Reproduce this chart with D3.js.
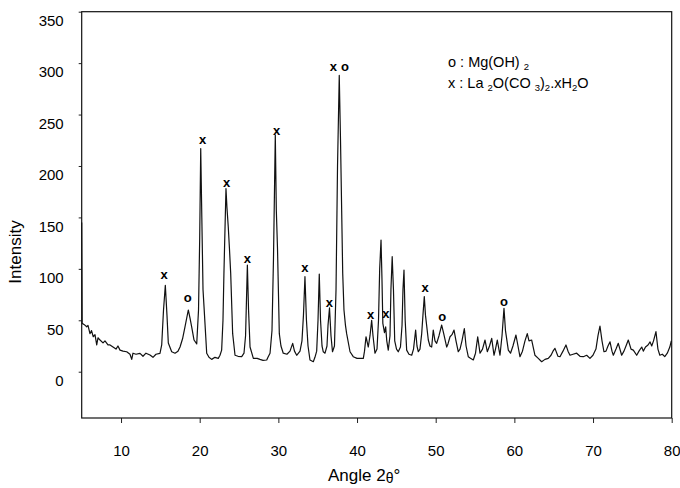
<!DOCTYPE html>
<html>
<head>
<meta charset="utf-8">
<script src="https://cdn.jsdelivr.net/npm/d3@7"></script>
<style>
  body { margin: 0; background: #fff; }
  svg text { font-family: "Liberation Sans", Arial, sans-serif; fill: #000; }
</style>
</head>
<body>
<div id="container"></div>
<script>
// XRD scan: [2theta, intensity]
const scan = [
  [5.00, 145], [5.06, 47], [5.29, 46], [5.64, 43.7], [5.80, 45], [6.05, 37], [6.25, 40],
  [6.47, 34], [6.69, 36], [6.91, 26], [7.07, 33], [7.33, 30.8], [7.71, 28], [7.96, 30],
  [8.34, 26], [8.60, 26], [8.98, 24], [9.36, 22], [9.61, 25], [9.87, 21], [10.25, 20],
  [10.72, 19.4], [11.14, 17], [11.36, 12], [11.52, 18], [11.90, 17], [12.41, 17.9],
  [12.79, 15], [13.17, 18], [13.68, 16.2], [14.06, 14], [14.44, 17], [14.95, 17.9],
  [15.17, 26], [15.40, 60], [15.63, 84], [15.84, 55], [16.01, 28], [16.44, 19.4],
  [16.86, 18], [17.24, 20], [17.50, 24], [17.82, 32], [18.13, 43.7], [18.55, 60],
  [18.77, 52], [18.98, 43.7], [19.28, 30.8], [19.62, 27], [19.85, 60], [20.00, 130],
  [20.13, 217], [20.27, 150], [20.42, 80], [20.55, 63], [20.89, 18], [21.18, 14],
  [21.52, 12], [21.94, 14], [22.36, 13], [22.58, 16], [22.79, 21], [22.96, 50],
  [23.08, 95.6], [23.34, 178], [23.46, 160], [23.63, 141], [23.78, 120], [23.94, 95.6],
  [24.19, 37], [24.49, 16], [24.87, 15], [25.34, 14.6], [25.63, 18], [25.83, 35],
  [26.06, 103.7], [26.21, 60], [26.40, 24], [26.82, 13], [27.30, 13], [27.66, 12],
  [28.05, 11], [28.52, 11.4], [28.68, 14], [28.94, 18], [29.19, 40], [29.38, 110],
  [29.61, 230], [29.74, 157], [29.89, 120], [30.12, 37], [30.33, 25], [30.62, 18],
  [31.09, 17], [31.48, 20], [31.82, 27.6], [32.05, 20], [32.33, 16], [32.75, 20],
  [33.00, 30], [33.19, 55], [33.38, 92.4], [33.57, 50], [33.77, 25], [34.02, 11.4],
  [34.44, 9.7], [34.65, 14], [34.87, 20], [35.04, 50], [35.20, 95], [35.36, 50],
  [35.55, 25], [35.71, 19.4], [35.93, 18], [36.18, 25], [36.31, 45], [36.50, 62],
  [36.69, 35], [36.88, 19.4], [37.13, 25], [37.33, 80], [37.52, 200], [37.74, 288],
  [37.90, 225], [38.18, 95.6], [38.34, 60], [38.53, 45], [38.68, 37], [39.11, 19.4],
  [39.52, 14.6], [40.00, 13], [40.38, 13], [40.80, 13], [40.95, 20], [41.14, 34],
  [41.43, 24], [41.65, 35], [41.86, 50], [42.03, 35], [42.28, 18], [42.54, 22],
  [42.73, 50], [42.88, 100], [43.05, 128], [43.17, 90], [43.28, 47], [43.49, 38],
  [43.64, 43.7], [43.78, 30], [43.97, 21], [44.19, 35], [44.31, 80], [44.47, 111.8],
  [44.63, 80], [44.79, 30], [45.02, 22], [45.24, 19.4], [45.52, 24], [45.72, 45],
  [45.84, 80], [45.97, 98.8], [46.12, 50], [46.31, 21], [46.60, 17], [46.95, 16],
  [47.18, 22], [47.45, 40.5], [47.62, 25], [47.79, 19.4], [48.00, 22], [48.22, 37],
  [48.38, 55], [48.55, 73], [48.70, 55], [49.06, 30.8], [49.27, 25], [49.49, 24],
  [49.69, 40.5], [49.91, 30], [50.12, 27.6], [50.42, 35], [50.76, 45.4], [50.99, 38],
  [51.40, 24], [51.56, 27], [51.82, 34], [52.07, 36], [52.33, 40.5], [52.58, 30],
  [52.87, 19.4], [53.09, 22], [53.34, 30], [53.64, 42], [53.86, 25], [54.14, 14.6],
  [54.42, 13], [54.78, 11.4], [55.06, 18], [55.34, 34], [55.63, 18], [55.95, 22],
  [56.27, 30.8], [56.56, 19.4], [56.84, 25], [57.12, 32.4], [57.41, 16], [57.60, 22],
  [57.83, 30.8], [58.17, 16], [58.43, 35], [58.68, 61.6], [58.87, 40], [59.23, 21],
  [59.51, 18], [59.82, 25], [60.20, 35.7], [60.46, 25], [60.71, 14.6], [61.03, 20],
  [61.35, 30], [61.64, 37], [61.86, 30], [62.20, 30.8], [62.62, 16], [63.04, 13],
  [63.47, 9.7], [63.89, 12], [64.31, 13], [64.66, 16], [64.91, 20], [65.16, 22.7],
  [65.54, 15], [65.80, 14.6], [66.18, 20], [66.56, 26], [66.82, 20], [67.07, 16],
  [67.46, 17], [67.92, 18], [68.34, 15], [68.76, 14.6], [69.19, 16], [69.61, 13],
  [69.99, 16], [70.37, 22], [70.63, 35], [70.88, 44.4], [71.14, 30], [71.39, 19.4],
  [71.65, 20], [71.90, 25], [72.16, 29], [72.41, 20], [72.58, 16], [72.92, 22],
  [73.21, 27.6], [73.64, 16], [73.93, 20], [74.19, 25], [74.48, 30.8], [74.83, 22],
  [75.12, 21], [75.55, 16], [75.84, 20], [76.19, 24], [76.39, 20], [76.67, 24],
  [76.99, 26], [77.25, 29], [77.46, 25], [77.69, 30], [78.00, 38.9], [78.25, 22],
  [78.49, 16], [78.81, 17], [79.12, 14.6], [79.44, 18], [79.76, 24], [79.95, 30]
];

// phase markers above the peaks
const peakAngle = [15.47, 18.47, 20.38, 23.43, 26.05, 29.79, 33.38, 36.47, 36.98, 38.47, 41.74, 43.68, 48.64, 50.84, 58.68];
const peakLevel = [94, 71.3, 225, 183.7, 109, 234, 100.5, 66.5, 296.4, 296.4, 55, 55.8, 81, 53.4, 68];
const peakPhase = ["x", "o", "x", "x", "x", "x", "x", "x", "x", "o", "x", "x", "x", "o", "o"];

const xTicks = [10, 20, 30, 40, 50, 60, 70, 80];
const yTicks = [0, 50, 100, 150, 200, 250, 300, 350];

const width = 680, height = 488;
const plot = { left: 81.7, right: 671.7, top: 11.7, bottom: 418 };

const svg = d3.select("#container")
  .append("svg")
  .attr("width", width)
  .attr("height", height);

const x = d3.scaleLinear().domain([5, 80]).range([plot.left, plot.right]);
const y = d3.scaleLinear().domain([-45, 350]).range([plot.bottom, plot.top]);

// axes
const xAxis = svg.append("g")
  .attr("transform", `translate(0 ${plot.bottom})`)
  .call(d3.axisBottom(x).tickValues(xTicks).tickSize(5).tickSizeOuter(0).tickPadding(22));
xAxis.select(".domain").remove();
xAxis.selectAll("line").attr("stroke", "#222");
xAxis.selectAll("text").style("font-size", "15px");

const yAxis = svg.append("g")
  .attr("transform", `translate(${plot.left} 0)`)
  .call(d3.axisLeft(y).tickValues(yTicks).tickSize(3).tickSizeOuter(0).tickPadding(15));
yAxis.select(".domain").remove();
yAxis.selectAll("line").attr("stroke", "#222");
yAxis.selectAll("text").attr("y", 9).style("font-size", "15px");

svg.append("rect")
  .attr("x", plot.left)
  .attr("y", plot.top)
  .attr("width", plot.right - plot.left)
  .attr("height", plot.bottom - plot.top)
  .attr("fill", "none")
  .attr("stroke", "#111")
  .attr("stroke-width", 1.2);

// pattern
const line = d3.line()
  .x(d => x(d[0]))
  .y(d => y(d[1]));

svg.append("path")
  .datum(scan)
  .attr("d", line)
  .attr("fill", "none")
  .attr("stroke", "#111")
  .attr("stroke-width", 1.2)
  .attr("stroke-linejoin", "round");

svg.append("g")
  .selectAll("text")
  .data(peakAngle)
  .enter()
  .append("text")
  .attr("x", d => x(d))
  .attr("y", (d, i) => y(peakLevel[i]))
  .attr("dy", "0.3em")
  .attr("text-anchor", "middle")
  .style("font-size", "13px")
  .style("font-weight", "bold")
  .text((d, i) => peakPhase[i]);

// legend
const legend = svg.append("g").style("font-size", "14.5px");
const l1 = legend.append("text").attr("x", 448).attr("y", 66.5);
l1.append("tspan").text("o : Mg(OH) ");
l1.append("tspan").attr("dy", 3).style("font-size", "9.5px").text("2");

const l2 = legend.append("text").attr("x", 448).attr("y", 88);
const parts = [["x : La ", 0], ["2", 1], ["O(CO ", 0], ["3", 1], [")", 0], ["2", 1], [".xH", 0], ["2", 1], ["O", 0]];
let shifted = 0;
parts.forEach(p => {
  const dy = p[1] ? 3 - shifted : -shifted;
  shifted = p[1] ? 3 : 0;
  l2.append("tspan")
    .attr("dy", dy)
    .style("font-size", p[1] ? "9.5px" : "14.5px")
    .text(p[0]);
});

// axis titles
const xt = svg.append("text")
  .attr("x", 328)
  .attr("y", 481)
  .style("font-size", "17px");
xt.append("tspan").text("Angle 2");
xt.append("tspan").attr("dy", 2).style("font-size", "14px").text("θ");
xt.append("tspan").attr("dy", -2).text("°");

svg.append("text")
  .attr("transform", "translate(21 252) rotate(-90)")
  .attr("text-anchor", "middle")
  .style("font-size", "17px")
  .text("Intensity");
</script>
</body>
</html>
